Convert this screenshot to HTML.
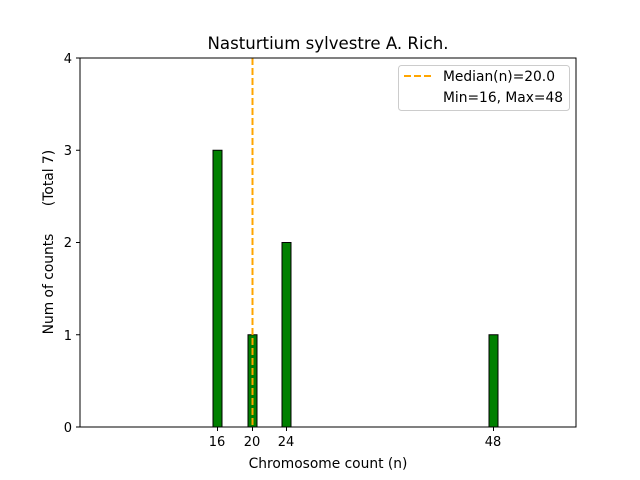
<!DOCTYPE html>
<html><head><style>body{margin:0;background:#fff}svg{display:block}</style></head><body>
<svg width="640" height="480" xmlns="http://www.w3.org/2000/svg" font-family="DejaVu Sans, Liberation Sans, sans-serif">
<rect width="640" height="480" fill="#fff"/>
<text x="328" y="49" font-size="16.6" text-anchor="middle">Nasturtium sylvestre A. Rich.</text>
<g fill="green" stroke="#000" stroke-width="1">
<rect x="213" y="150.25" width="9" height="276.75"/>
<rect x="248" y="334.75" width="9" height="92.25"/>
<rect x="282" y="242.5" width="9" height="184.5"/>
<rect x="489" y="334.75" width="9" height="92.25"/>
</g>
<line x1="252.5" y1="58" x2="252.5" y2="427" stroke="orange" stroke-width="2" stroke-dasharray="7,3"/>
<rect x="80" y="58" width="496" height="369" fill="none" stroke="#000" stroke-width="1"/>
<g stroke="#000">
<line x1="80" y1="427" x2="76" y2="427"/><line x1="80" y1="334.75" x2="76" y2="334.75"/>
<line x1="80" y1="242.5" x2="76" y2="242.5"/><line x1="80" y1="150.25" x2="76" y2="150.25"/>
<line x1="80" y1="58" x2="76" y2="58"/>
<line x1="217.5" y1="427" x2="217.5" y2="431"/><line x1="252.5" y1="427" x2="252.5" y2="431"/>
<line x1="286.5" y1="427" x2="286.5" y2="431"/><line x1="493.5" y1="427" x2="493.5" y2="431"/>
</g>
<g font-size="13" text-anchor="end">
<text x="72" y="432">0</text><text x="72" y="340">1</text><text x="72" y="247">2</text>
<text x="72" y="155">3</text><text x="72" y="63">4</text>
</g>
<g font-size="13" text-anchor="middle">
<text x="217" y="446">16</text><text x="252" y="446">20</text><text x="286" y="446">24</text><text x="493" y="446">48</text>
</g>
<text x="328" y="468" font-size="13.8" text-anchor="middle">Chromosome count (n)</text>
<text transform="translate(53,284) rotate(-90)" font-size="13.8" text-anchor="middle">Num of counts</text>
<text transform="translate(53,178) rotate(-90)" font-size="13.8" text-anchor="middle">(Total 7)</text>
<rect x="398.5" y="65.5" width="171" height="45" rx="3" fill="#fff" stroke="#ccc"/>
<line x1="404" y1="76" x2="432" y2="76" stroke="orange" stroke-width="2" stroke-dasharray="7,3"/>
<text x="443" y="81" font-size="13.8">Median(n)=20.0</text>
<text x="443" y="102" font-size="13.8">Min=16, Max=48</text>
</svg>
</body></html>
